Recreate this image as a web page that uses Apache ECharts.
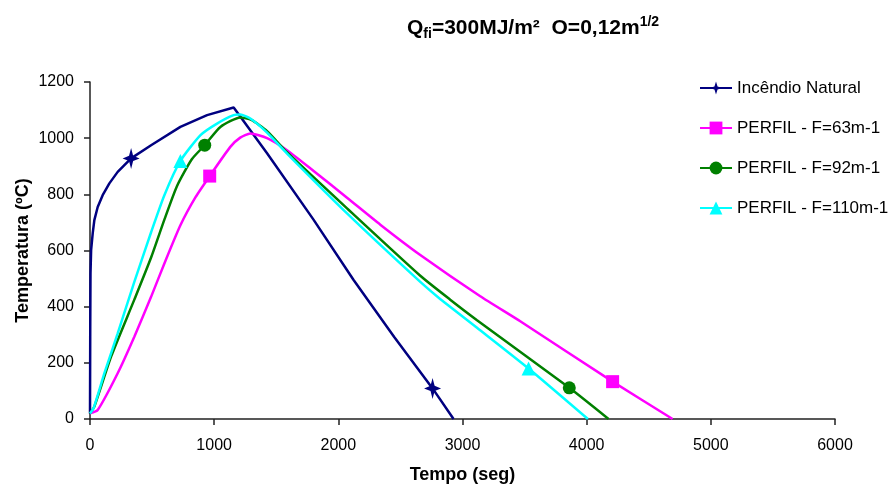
<!DOCTYPE html>
<html>
<head>
<meta charset="utf-8">
<script src="https://cdn.jsdelivr.net/npm/echarts@6/dist/echarts.min.js"></script>
<style>html,body{margin:0;padding:0;background:#fff}#c{width:894px;height:489px}</style>
</head>
<body>
<div id="c"></div>
<script>
// ---- data (time in s, temperature in °C) ----
const seriesNames = ['Incêndio Natural', 'PERFIL - F=63m-1', 'PERFIL - F=92m-1', 'PERFIL - F=110m-1'];

const natT = [0, 2, 4, 9, 22, 35, 62, 102, 156, 223, 331, 492, 728, 943, 1157, 1185, 1426, 1800, 2123, 2450, 2759, 2928];
const natV = [20, 330, 518, 601, 662, 708, 755, 797, 839, 880, 928, 975, 1040, 1082, 1109, 1092, 946, 710, 495, 292, 109, 0];
const natMarkT = [331, 2759];

const mgT = [0, 62, 223, 357, 492, 599, 728, 850, 964, 1130, 1210, 1291, 1426, 1587, 1801, 2070, 2338, 2660, 3143, 3465, 4209, 4692];
const mgV = [20, 32, 163, 293, 435, 554, 690, 790, 865, 969, 1002, 1017, 1000, 957, 883, 788, 692, 584, 437, 348, 133, 0];
const mgMarkT = [964, 4209];

const grT = [0, 35, 170, 357, 492, 599, 701, 820, 924, 1050, 1211, 1300, 1426, 1587, 2070, 2660, 2901, 3117, 3860, 4176];
const grV = [20, 44, 222, 425, 575, 710, 830, 925, 975, 1040, 1074, 1065, 1025, 950, 750, 510, 425, 352, 111, 0];
const grMarkT = [924, 3860];

const cyT = [0, 30, 116, 223, 357, 492, 599, 728, 890, 1023, 1157, 1211, 1291, 1426, 1587, 2070, 2660, 2808, 3117, 3532, 4010];
const cyV = [20, 40, 163, 305, 488, 665, 797, 919, 1011, 1052, 1082, 1084, 1070, 1020, 945, 732, 488, 432, 325, 180, 0];
const cyMarkT = [728, 3532];

const xTicks = [0, 1000, 2000, 3000, 4000, 5000, 6000];
const yTicks = [0, 200, 400, 600, 800, 1000, 1200];

// ---- build ----
function build(ts, vs, marks) {
  return ts.map((t, i) => marks.indexOf(t) >= 0 ? { value: [t, vs[i]] } : { value: [t, vs[i]], symbol: 'none' });
}
const FONT = 'Liberation Sans, Arial, sans-serif';
const starPath = 'path://M50,0 L62,38 L100,50 L62,62 L50,100 L38,62 L0,50 L38,38 Z';

const chart = echarts.init(document.getElementById('c'), null, { renderer: 'canvas' });

function mkSeries(name, color, ts, vs, marks, symbol, size, smooth) {
  return {
    name: name, type: 'line', data: build(ts, vs, marks),
    symbol: symbol, symbolSize: size, showSymbol: true, showAllSymbol: true,
    smooth: smooth,
    lineStyle: { color: color, width: 2.5 },
    itemStyle: { color: color, borderWidth: 0 },
    z: 2, silent: true
  };
}

chart.setOption({
  animation: false,
  backgroundColor: '#fff',
  textStyle: { fontFamily: FONT },
  title: {
    left: 407, top: 15, padding: 0,
    text: '{b|Q}{s|fi}{b|=300MJ/m²  O=0,12m}{p|1/2}',
    textStyle: {
      rich: {
        b: { fontFamily: FONT, fontSize: 21, fontWeight: 'bold', color: '#000', lineHeight: 26 },
        s: { fontFamily: FONT, fontSize: 14, fontWeight: 'bold', color: '#000', lineHeight: 12, verticalAlign: 'bottom' },
        p: { fontFamily: FONT, fontSize: 14, fontWeight: 'bold', color: '#000', lineHeight: 12, verticalAlign: 'top' }
      }
    }
  },
  legend: {
    orient: 'vertical', left: 699, top: 79, padding: 0,
    itemWidth: 32, itemHeight: 16, itemGap: 22,
    textStyle: { fontFamily: FONT, fontSize: 17, color: '#000', lineHeight: 18 },
    data: seriesNames
  },
  grid: { left: 90, right: 59, top: 82, bottom: 70, containLabel: false, outerBoundsMode: 'none' },
  xAxis: {
    type: 'value', min: xTicks[0], max: xTicks[xTicks.length - 1], interval: 1000,
    name: 'Tempo (seg)', nameLocation: 'middle', nameGap: 47, nameMoveOverlap: false,
    nameTextStyle: { fontFamily: FONT, fontSize: 18, fontWeight: 'bold', color: '#000' },
    axisLine: { show: true, onZero: false, lineStyle: { color: '#222', width: 1.5 } },
    axisTick: { show: true, length: 6, inside: false, lineStyle: { color: '#222', width: 1.5 } },
    axisLabel: { fontFamily: FONT, fontSize: 16, color: '#000', margin: 19, formatter: v => String(v) },
    splitLine: { show: false }
  },
  yAxis: {
    type: 'value', min: yTicks[0], max: yTicks[yTicks.length - 1], interval: 200,
    name: 'Temperatura (ºC)', nameLocation: 'middle', nameGap: 58, nameRotate: 90, nameMoveOverlap: false,
    nameTextStyle: { fontFamily: FONT, fontSize: 18, fontWeight: 'bold', color: '#000' },
    axisLine: { show: true, onZero: false, lineStyle: { color: '#222', width: 1.5 } },
    axisTick: { show: true, length: 6, inside: false, lineStyle: { color: '#222', width: 1.5 } },
    axisLabel: { fontFamily: FONT, fontSize: 16, color: '#000', margin: 16, formatter: v => String(v) },
    splitLine: { show: false }
  },
  series: [
    mkSeries(seriesNames[0], '#000080', natT, natV, natMarkT, starPath, [17, 21], false),
    mkSeries(seriesNames[1], '#FF00FF', mgT, mgV, mgMarkT, 'rect', 13, 0.2),
    mkSeries(seriesNames[2], '#008000', grT, grV, grMarkT, 'circle', 13, 0.2),
    mkSeries(seriesNames[3], '#00FFFF', cyT, cyV, cyMarkT, 'triangle', 14, 0.2)
  ]
});
</script>
</body>
</html>
